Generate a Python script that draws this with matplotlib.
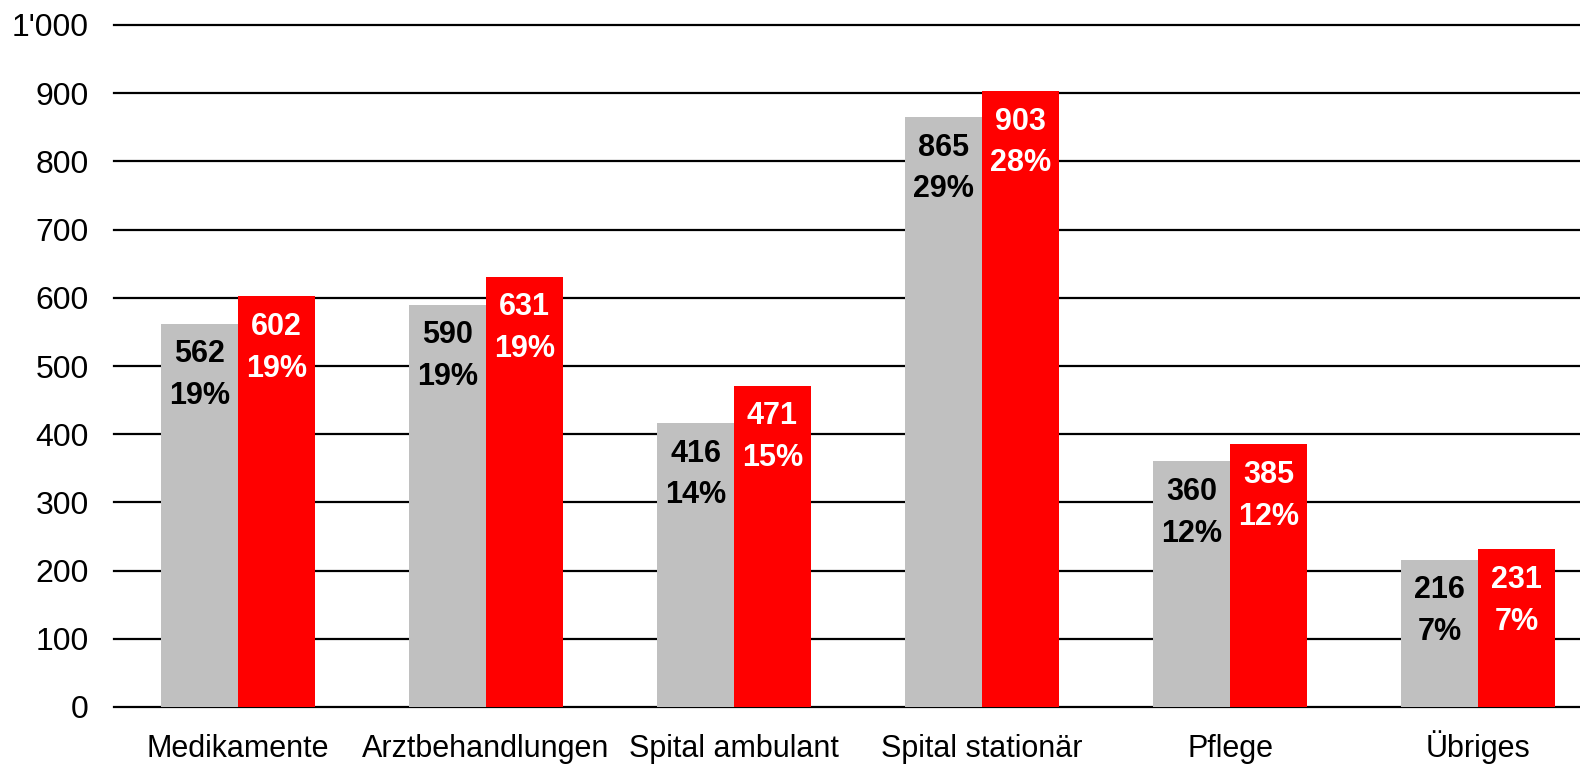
import numpy as np
import matplotlib
matplotlib.use("Agg")
import matplotlib.pyplot as plt

plt.rcParams["font.family"] = ["Liberation Sans", "DejaVu Sans"]

kategorien = ["Medikamente", "Arztbehandlungen", "Spital ambulant",
              "Spital stationär", "Pflege", "Übriges"]
werte_grau = [562, 590, 416, 865, 360, 216]
anteil_grau = [19, 19, 14, 29, 12, 7]
werte_rot = [602, 631, 471, 903, 385, 231]
anteil_rot = [19, 19, 15, 28, 12, 7]
yticks = [0, 100, 200, 300, 400, 500, 600, 700, 800, 900, 1000]
ytick_labels = ["0", "100", "200", "300", "400", "500", "600", "700", "800", "900", "1'000"]

fig = plt.figure(figsize=(15.8, 7.67), dpi=100)
# axes runs a bit past the right edge, like the original crop
ax = fig.add_axes([114 / 1580, 60 / 767, 1488 / 1580, 682 / 767])

x = np.arange(len(kategorien))
w = 0.31
b1 = ax.bar(x - w / 2, werte_grau, w, color="#C0C0C0", zorder=3)
b2 = ax.bar(x + w / 2, werte_rot, w, color="#FF0000", zorder=3)

for rect, v, p in zip(b1, werte_grau, anteil_grau):
    ax.annotate(f"{v}\n{p}%", (rect.get_x() + rect.get_width() / 2, v),
                xytext=(0, -37), textcoords="offset points", ha="center", va="center",
                fontsize=22, fontweight="bold", color="black", linespacing=1.5, zorder=4)
for rect, v, p in zip(b2, werte_rot, anteil_rot):
    ax.annotate(f"{v}\n{p}%", (rect.get_x() + rect.get_width() / 2, v),
                xytext=(0, -37), textcoords="offset points", ha="center", va="center",
                fontsize=22, fontweight="bold", color="white", linespacing=1.5, zorder=4)

ax.set_xlim(-0.5, len(kategorien) - 0.5)
ax.set_ylim(0, 1000)
ax.set_yticks(yticks)
ax.set_yticklabels(ytick_labels, fontsize=23)
ax.set_xticks(x)
ax.set_xticklabels(kategorien, fontsize=22, va="baseline")
ax.tick_params(axis="y", length=0, pad=18)
ax.tick_params(axis="x", length=0, pad=36)
ax.yaxis.grid(True, color="black", linewidth=1.6, zorder=0)
for gl in ax.yaxis.get_gridlines():
    gl.set_clip_on(False)
ax.set_axisbelow(True)
for s in ["top", "right", "left", "bottom"]:
    ax.spines[s].set_visible(False)

fig.savefig("out.png", dpi=100)
